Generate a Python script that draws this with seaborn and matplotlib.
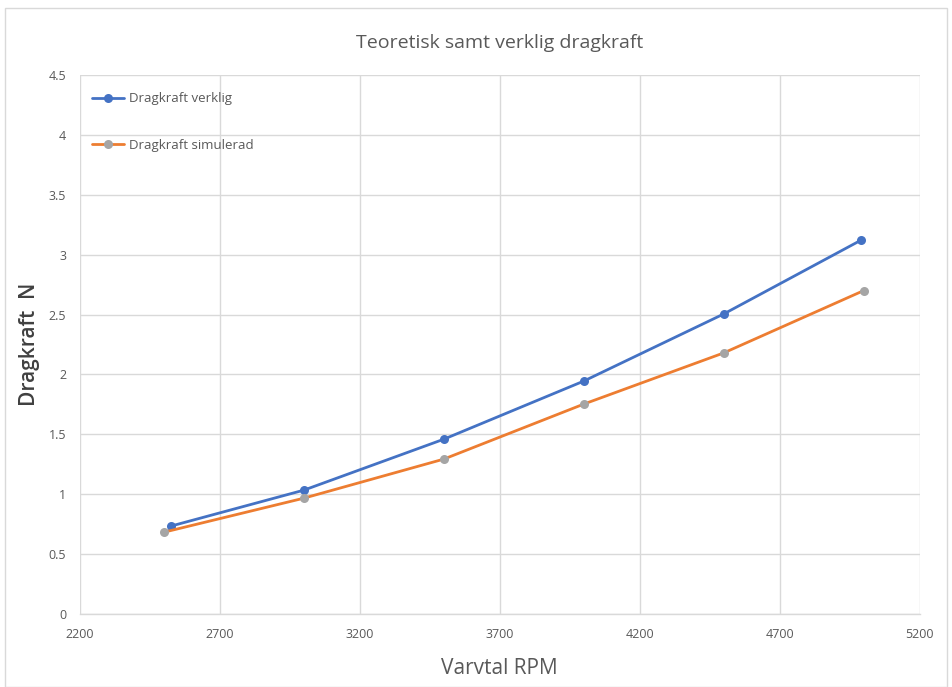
import matplotlib
matplotlib.use("Agg")
import matplotlib.pyplot as plt
import seaborn as sns
import pandas as pd
from matplotlib.patches import Rectangle

rpm_verklig = [2525, 3000, 3500, 4000, 4500, 4990]
kraft_verklig = [0.735, 1.035, 1.46, 1.945, 2.505, 3.12]
rpm_sim = [2500, 3000, 3500, 4000, 4500, 5000]
kraft_sim = [0.684, 0.968, 1.294, 1.753, 2.18, 2.70]

x_ticks = [2200, 2700, 3200, 3700, 4200, 4700, 5200]
y_ticks = [0, 0.5, 1, 1.5, 2, 2.5, 3, 3.5, 4, 4.5]

sns.set_theme(style="white")
plt.rcParams['font.family'] = ['Open Sans', 'DejaVu Sans']

df_v = pd.DataFrame({"rpm": rpm_verklig, "kraft": kraft_verklig})
df_s = pd.DataFrame({"rpm": rpm_sim, "kraft": kraft_sim})

fig = plt.figure(figsize=(9.52, 6.87), dpi=100)
ax = fig.add_axes([0.084, 0.106, 0.882, 0.785])

sns.lineplot(data=df_v, x="rpm", y="kraft", ax=ax, color="#4472C4", lw=2,
             marker="o", markersize=6.5, markeredgewidth=0, markerfacecolor="#4472C4",
             label="Dragkraft verklig", sort=False)
sns.lineplot(data=df_s, x="rpm", y="kraft", ax=ax, color="#ED7D31", lw=2,
             marker="o", markersize=6.5, markeredgewidth=0, markerfacecolor="#A5A5A5",
             label="Dragkraft simulerad", sort=False)

ax.set_xlim(2200, 5200)
ax.set_ylim(0, 4.5)
ax.set_xticks(x_ticks)
ax.set_yticks(y_ticks)
ax.set_yticklabels([f"{v:g}" for v in y_ticks])
ax.grid(True, color="#D9D9D9", lw=1)
ax.set_axisbelow(True)
for s in ["top", "right", "left"]:
    ax.spines[s].set_visible(False)
ax.spines["bottom"].set_color("#D9D9D9")
ax.spines["bottom"].set_linewidth(1)
ax.tick_params(axis="both", length=0, labelsize=9, colors="#595959", pad=10)

ax.set_title("Teoretisk samt verklig dragkraft", fontsize=14, color="#595959", pad=19)
ax.set_xlabel("Varvtal RPM", fontsize=15, color="#595959", labelpad=12)
ax.set_ylabel("Dragkraft  N", fontsize=15, color="#404040", labelpad=6,
              fontweight="semibold")

leg = ax.legend(loc="upper left", bbox_to_anchor=(0.0, 0.99), frameon=False,
                fontsize=9.5, labelspacing=2.55, handlelength=2.4, handletextpad=0.4)
for t in leg.get_texts():
    t.set_color("#595959")

fig.patches.append(Rectangle((0.005, 0.0), 0.99, 0.988, transform=fig.transFigure,
                             fill=False, edgecolor="#D9D9D9", lw=1))

fig.savefig("out.png", dpi=100)
